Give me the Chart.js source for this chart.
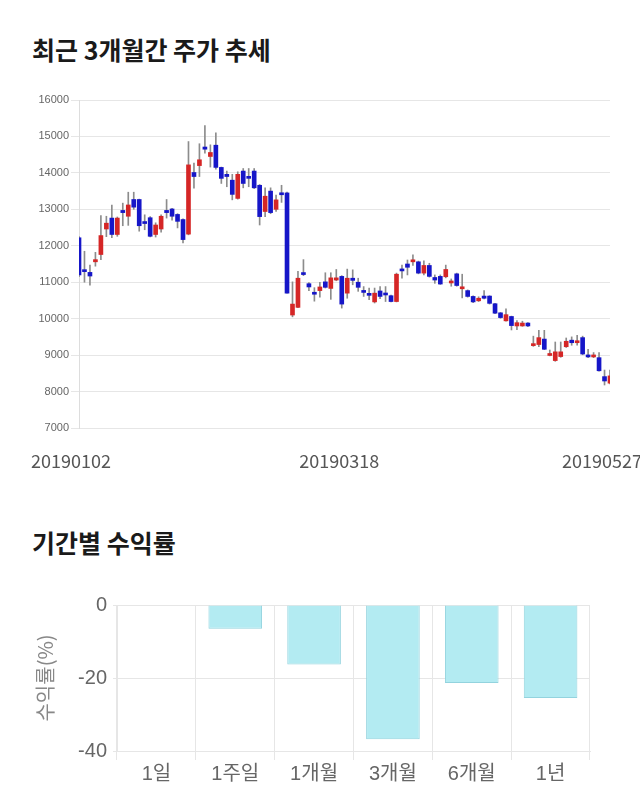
<!DOCTYPE html>
<html>
<head>
<meta charset="utf-8">
<script src="https://cdn.jsdelivr.net/npm/chart.js@4.4.1/dist/chart.umd.min.js"></script>
<style>
body{margin:0;background:#fff;width:640px;height:810px;position:relative;overflow:hidden;font-family:'Noto Sans CJK KR',sans-serif}
h2{position:absolute;left:32px;margin:0;font-size:25px;font-weight:700;color:#1a1a1a;line-height:1}
#t1{top:37px}
#t2{top:530px}
#priceChart{position:absolute;left:0;top:80px}
#returnChart{position:absolute;left:0;top:560px}
</style>
</head>
<body>
<h2 id="t1">최근 3개월간 주가 추세</h2>
<canvas id="priceChart" width="640" height="400"></canvas>
<h2 id="t2">기간별 수익률</h2>
<canvas id="returnChart" width="640" height="250"></canvas>
<script>
// trading days 2019-01-02 .. 2019-05-27
const dates = [
"20190102","20190103","20190104","20190107","20190108","20190109","20190110","20190111","20190114","20190115",
"20190116","20190117","20190118","20190121","20190122","20190123","20190124","20190125","20190128","20190129",
"20190130","20190131","20190201","20190207","20190208","20190211","20190212","20190213","20190214","20190215",
"20190218","20190219","20190220","20190221","20190222","20190225","20190226","20190227","20190228","20190304",
"20190305","20190306","20190307","20190308","20190311","20190312","20190313","20190314","20190315","20190318",
"20190319","20190320","20190321","20190322","20190325","20190326","20190327","20190328","20190329","20190401",
"20190402","20190403","20190404","20190405","20190408","20190409","20190410","20190411","20190412","20190415",
"20190416","20190417","20190418","20190419","20190422","20190423","20190424","20190425","20190426","20190429",
"20190430","20190502","20190503","20190507","20190508","20190509","20190510","20190513","20190514","20190515",
"20190516","20190517","20190520","20190521","20190522","20190523","20190524","20190527"];
const tickLabels = ["20190102","20190318","20190527"];

const opens = [12220,11330,11270,11560,11760,12460,12760,12310,12970,12810,
13270,13270,12660,12770,12310,12460,12970,13010,12860,12720,
12320,14010,14200,14710,14450,14760,14150,13960,13800,13300,
14050,13880,14050,13660,12940,13500,13000,13420,13450,10100,
10310,11260,10960,10690,10770,11010,10830,11060,11160,10700,
11110,11000,10740,10670,10460,10760,10670,10630,10470,11360,
11500,11560,11560,11250,11460,11130,11160,11150,10980,11230,
10820,10770,10610,10490,10620,10620,10410,10160,9940,10060,
9800,9800,9880,9260,9290,9440,8990,8850,8960,9230,
9410,9340,9480,9000,8950,8930,8410,8230];
const highs = [12250,11850,11470,11820,12830,12810,13120,12790,13170,13470,
13470,13280,12850,12800,12630,12850,13270,13030,12880,12740,
14860,14270,14800,15300,14770,15100,14160,14050,13960,14030,
14120,14120,14120,13680,13590,13590,13390,13660,13470,11010,
11300,11620,10990,10850,11000,11260,11260,11350,11180,11360,
11340,11110,10880,10840,10840,10880,10880,10650,11250,11470,
11610,11750,11580,11590,11520,11200,11200,11470,11090,11250,
11220,10790,10630,10600,10770,10630,10420,10170,10270,10070,
9950,9930,9890,9520,9680,9680,9140,9360,9360,9470,
9500,9540,9520,9160,9070,9070,8590,8590];
const lows = [11150,11000,10920,11440,11620,12250,12220,12260,12550,12560,
13000,12400,12440,12240,12240,12370,12760,12700,12490,12080,
12300,13580,13900,14540,14160,14100,13710,13620,13260,13280,
13590,13620,13570,12570,12800,12880,12940,13190,10700,10050,
10300,11180,10770,10480,10590,10840,10530,11040,10290,10560,
10930,10750,10610,10520,10430,10550,10470,10460,10460,11110,
11200,11460,11230,11200,11140,10970,10940,11120,10890,10890,
10570,10590,10440,10470,10540,10400,10140,10010,9930,9690,
9700,9790,9780,9240,9230,9150,8980,8830,8940,9210,
9270,9270,9010,8930,8930,8560,8180,8210];
const closes = [11200,11290,11170,11620,12280,12620,12310,12760,12910,13120,
13060,12550,12610,12260,12570,12810,12910,12810,12670,12170,
14220,13900,14360,14650,14560,14150,13850,13900,13410,13960,
13710,13850,13590,12800,13360,12910,13260,13400,10700,10400,
11110,11210,10870,10670,10870,10860,11120,11120,10400,11110,
11050,10860,10720,10640,10700,10610,10650,10470,11220,11310,
11410,11610,11250,11460,11160,11060,10950,11350,11030,10910,
10860,10610,10460,10560,10560,10420,10150,10030,10110,9810,
9890,9880,9800,9310,9480,9160,9020,9090,9090,9380,
9340,9380,9030,8950,8990,8570,8290,8430];
const priceTicks = [7000,8000,9000,10000,11000,12000,13000,14000,15000,16000];

const periods = ["1일","1주일","1개월","3개월","6개월","1년"];
const returns = [0,-6.5,-16.3,-36.8,-21.4,-25.5];

const UP = "#d52626", DOWN = "#1616c8";

// CANDLES: body = floating bar [open, close], wick = thin bar [low, high]
new Chart(document.getElementById("priceChart"),{
type:"bar",
data:{
labels:dates,
datasets:[
{data:dates.map((d,i)=>[opens[i],closes[i]]),
backgroundColor:dates.map((d,i)=>closes[i]>=opens[i]?UP:DOWN),
barThickness:4,minBarLength:2,grouped:false},
{data:dates.map((d,i)=>[lows[i],highs[i]]),
backgroundColor:"#8c8c8c",barThickness:1,grouped:false}
]},
options:{
responsive:false,animation:false,
layout:{padding:{top:20,left:0,right:0,bottom:0}},
plugins:{legend:{display:false},tooltip:{enabled:false}},
scales:{
x:{offset:false,
grid:{display:false,drawTicks:false},border:{display:false},
ticks:{autoSkip:false,maxRotation:0,minRotation:0,labelOffset:-8,padding:22,color:"#555",
font:{family:"'Noto Sans CJK KR'",size:18},
callback:(v,i)=>tickLabels.includes(dates[i])?dates[i]:""},
afterFit:s=>{s.height=52;s.paddingRight=30;}},
y:{min:7000,max:16000,
afterBuildTicks:s=>{s.ticks=priceTicks.map(v=>({value:v}));},
ticks:{color:"#666",padding:2,font:{family:"'Liberation Sans'",size:11},callback:v=>String(v)},
grid:{color:"#e6e6e6",tickLength:8},border:{color:"#dddddd"},
afterFit:s=>{s.width=79;}}
}}
});

// RETURNS
new Chart(document.getElementById("returnChart"),{
type:"bar",
data:{labels:periods,datasets:[{data:returns,
backgroundColor:"#b3ebf2",borderColor:"#93d3de",borderWidth:1,
categoryPercentage:0.8,barPercentage:0.85}]},
options:{
responsive:false,animation:false,
layout:{padding:{top:45,right:50,bottom:0,left:0}},
plugins:{legend:{display:false},tooltip:{enabled:false}},
scales:{
x:{grid:{color:"#e6e6e6",tickLength:9},border:{color:"#e6e6e6"},
ticks:{padding:2,color:"#666",font:{family:"'Liberation Sans','Noto Sans CJK KR'",size:20}},
afterFit:s=>{s.height=59;}},
y:{min:-40,max:0,
ticks:{stepSize:20,padding:6,color:"#666",font:{family:"'Liberation Sans','Noto Sans CJK KR'",size:20}},
grid:{color:"#e6e6e6",tickLength:4},border:{color:"#e6e6e6"},
title:{display:true,text:"수익률(%)",color:"#888",font:{family:"'Noto Sans CJK KR'",size:20},padding:{top:33,bottom:0}},
afterFit:s=>{s.width=117;}}
}}
});
</script>
</body>
</html>
